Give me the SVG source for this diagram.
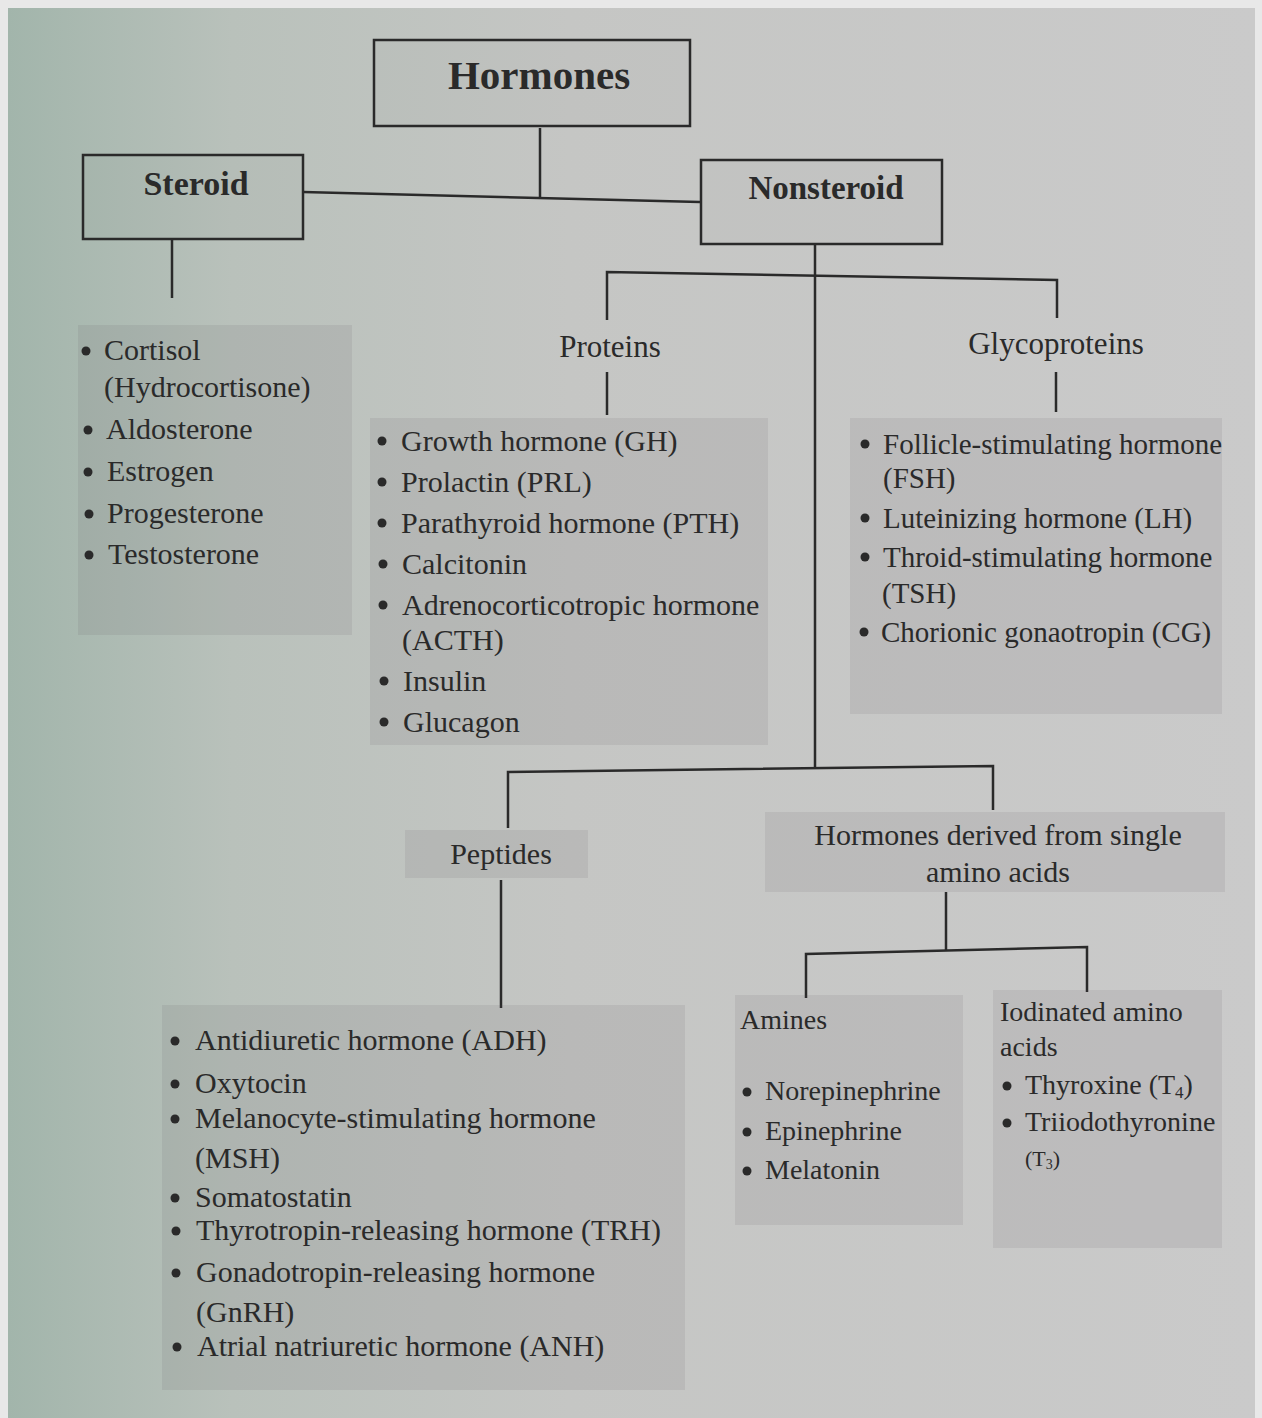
<svg xmlns="http://www.w3.org/2000/svg" width="1262" height="1418" viewBox="0 0 1262 1418">
<defs>
<linearGradient id="pg" x1="0" y1="0" x2="1" y2="0">
<stop offset="0" stop-color="#a2b5ab"/>
<stop offset="0.18" stop-color="#b9c1bb"/>
<stop offset="0.45" stop-color="#c5c6c4"/>
<stop offset="1" stop-color="#cacaca"/>
</linearGradient>
<style>
.box{fill:rgba(0,0,0,0.02);stroke:#2a2a2a;stroke-width:2.5}
.sh{fill:rgba(90,80,90,0.11)}
.c{stroke:#2a2a2a;stroke-width:2.5;fill:none}
.t{font-family:"Liberation Serif","Times New Roman",serif;fill:#2a2a2a}
.h{font-weight:bold;text-anchor:middle}
.m{text-anchor:middle}
.b{fill:#2a2a2a}
</style>
</defs>
<rect width="1262" height="1418" fill="#e8e8e8"/>
<rect x="8" y="8" width="1247" height="1410" fill="url(#pg)"/>

<g id="connectors">
<line class="c" x1="540" y1="128" x2="540" y2="197"/>
<line class="c" x1="303" y1="192" x2="700" y2="202"/>
<line class="c" x1="172" y1="239" x2="172" y2="298"/>
<line class="c" x1="815" y1="244" x2="815" y2="768"/>
<polyline class="c" points="607,320 607,272 1057,280 1057,318"/>
<line class="c" x1="607" y1="372" x2="607" y2="415"/>
<line class="c" x1="1056" y1="372" x2="1056" y2="412"/>
<polyline class="c" points="508,828 508,772 993,766 993,810"/>
<line class="c" x1="501" y1="880" x2="501" y2="1008"/>
<line class="c" x1="946" y1="892" x2="946" y2="950"/>
<polyline class="c" points="806,998 806,954 1087,947 1087,992"/>
</g>

<g id="hormones">
<rect class="box" x="374" y="40" width="316" height="86"/>
<text class="t h" x="539" y="89" font-size="41">Hormones</text>
</g>

<g id="steroid">
<rect class="box" x="83" y="155" width="220" height="84"/>
<text class="t h" x="196" y="195" font-size="34">Steroid</text>
</g>

<g id="nonsteroid">
<rect class="box" x="701" y="160" width="241" height="84"/>
<text class="t h" x="826" y="199" font-size="33">Nonsteroid</text>
</g>

<g id="steroid-list">
<rect class="sh" x="78" y="325" width="274" height="310"/>
<g class="t" font-size="30">
<text x="104" y="360">Cortisol</text>
<text x="104" y="397">(Hydrocortisone)</text>
<text x="106" y="439">Aldosterone</text>
<text x="107" y="481">Estrogen</text>
<text x="107" y="523">Progesterone</text>
<text x="108" y="564">Testosterone</text>
</g>
<circle class="b" cx="86" cy="351" r="4.5"/>
<circle class="b" cx="88" cy="430" r="4.5"/>
<circle class="b" cx="88" cy="472" r="4.5"/>
<circle class="b" cx="89" cy="514" r="4.5"/>
<circle class="b" cx="89" cy="555" r="4.5"/>
</g>

<g id="proteins">
<text class="t m" x="610" y="357" font-size="31">Proteins</text>
</g>

<g id="proteins-list">
<rect class="sh" x="370" y="418" width="398" height="327"/>
<g class="t" font-size="30">
<text x="401" y="451">Growth hormone (GH)</text>
<text x="401" y="492">Prolactin (PRL)</text>
<text x="401" y="533">Parathyroid hormone (PTH)</text>
<text x="402" y="574">Calcitonin</text>
<text x="402" y="615">Adrenocorticotropic hormone</text>
<text x="402" y="650">(ACTH)</text>
<text x="403" y="691">Insulin</text>
<text x="403" y="732">Glucagon</text>
</g>
<circle class="b" cx="382" cy="441" r="4.5"/>
<circle class="b" cx="382" cy="482" r="4.5"/>
<circle class="b" cx="382" cy="523" r="4.5"/>
<circle class="b" cx="383" cy="564" r="4.5"/>
<circle class="b" cx="383" cy="605" r="4.5"/>
<circle class="b" cx="384" cy="681" r="4.5"/>
<circle class="b" cx="384" cy="722" r="4.5"/>
</g>

<g id="glycoproteins">
<text class="t m" x="1056" y="354" font-size="31">Glycoproteins</text>
</g>

<g id="glycoproteins-list">
<rect class="sh" x="850" y="418" width="372" height="296"/>
<g class="t" font-size="29">
<text x="883" y="454">Follicle-stimulating hormone</text>
<text x="883" y="488">(FSH)</text>
<text x="883" y="528">Luteinizing hormone (LH)</text>
<text x="883" y="567">Throid-stimulating hormone</text>
<text x="882" y="603">(TSH)</text>
<text x="881" y="642">Chorionic gonaotropin (CG)</text>
</g>
<circle class="b" cx="865" cy="444" r="4.5"/>
<circle class="b" cx="865" cy="518" r="4.5"/>
<circle class="b" cx="865" cy="557" r="4.5"/>
<circle class="b" cx="864" cy="632" r="4.5"/>
</g>

<g id="peptides">
<rect class="sh" x="405" y="830" width="183" height="48"/>
<text class="t m" x="501" y="864" font-size="30">Peptides</text>
</g>

<g id="peptides-list">
<rect class="sh" x="162" y="1005" width="523" height="385"/>
<g class="t" font-size="30">
<text x="195" y="1050">Antidiuretic hormone (ADH)</text>
<text x="195" y="1093">Oxytocin</text>
<text x="195" y="1128">Melanocyte-stimulating hormone</text>
<text x="195" y="1168">(MSH)</text>
<text x="195" y="1207">Somatostatin</text>
<text x="196" y="1240">Thyrotropin-releasing hormone (TRH)</text>
<text x="196" y="1282">Gonadotropin-releasing hormone</text>
<text x="196" y="1322">(GnRH)</text>
<text x="197" y="1356">Atrial natriuretic hormone (ANH)</text>
</g>
<circle class="b" cx="175" cy="1041" r="4.5"/>
<circle class="b" cx="175" cy="1084" r="4.5"/>
<circle class="b" cx="175" cy="1119" r="4.5"/>
<circle class="b" cx="175" cy="1198" r="4.5"/>
<circle class="b" cx="176" cy="1231" r="4.5"/>
<circle class="b" cx="176" cy="1273" r="4.5"/>
<circle class="b" cx="177" cy="1347" r="4.5"/>
</g>

<g id="single-amino">
<rect class="sh" x="765" y="812" width="460" height="80"/>
<g class="t m" font-size="30">
<text x="998" y="845">Hormones derived from single</text>
<text x="998" y="882">amino acids</text>
</g>
</g>

<g id="amines">
<rect class="sh" x="735" y="995" width="228" height="230"/>
<g class="t" font-size="28">
<text x="740" y="1029">Amines</text>
<text x="765" y="1100">Norepinephrine</text>
<text x="765" y="1140">Epinephrine</text>
<text x="765" y="1179">Melatonin</text>
</g>
<circle class="b" cx="747" cy="1092" r="4.5"/>
<circle class="b" cx="747" cy="1132" r="4.5"/>
<circle class="b" cx="747" cy="1171" r="4.5"/>
</g>

<g id="iodinated">
<rect class="sh" x="993" y="990" width="229" height="258"/>
<g class="t" font-size="28">
<text x="1000" y="1021">Iodinated amino</text>
<text x="1000" y="1056">acids</text>
<text x="1025" y="1094">Thyroxine (T<tspan font-size="17" dy="4">4</tspan><tspan dy="-4">)</tspan></text>
<text x="1025" y="1131">Triiodothyronine</text>
<text x="1025" y="1166" font-size="22">(T<tspan font-size="14" dy="3">3</tspan><tspan dy="-3">)</tspan></text>
</g>
<circle class="b" cx="1007" cy="1086" r="4.5"/>
<circle class="b" cx="1007" cy="1123" r="4.5"/>
</g>
</svg>
